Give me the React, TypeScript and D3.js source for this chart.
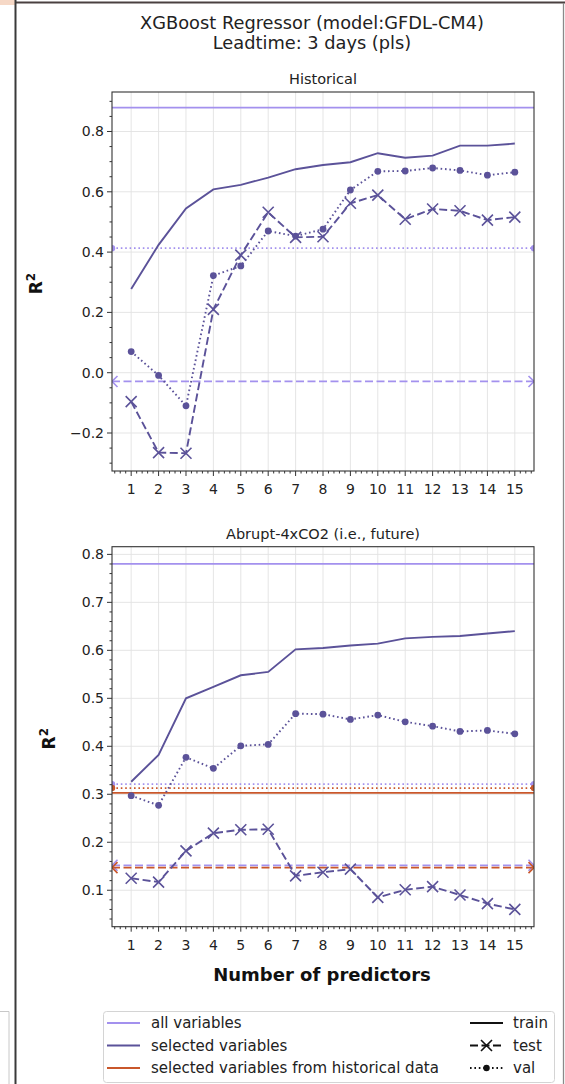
import * as d3 from 'd3';

// number of predictors on the x axis
const predictors = [1, 2, 3, 4, 5, 6, 7, 8, 9, 10, 11, 12, 13, 14, 15];

// Historical panel, selected variables
const histTrain = [0.278, 0.424, 0.545, 0.608, 0.623, 0.647, 0.675, 0.689, 0.698, 0.728, 0.713, 0.72, 0.753, 0.753, 0.76];
const histTest = [-0.096, -0.265, -0.267, 0.21, 0.39, 0.532, 0.449, 0.451, 0.562, 0.589, 0.509, 0.543, 0.537, 0.506, 0.516];
const histVal = [0.07, -0.009, -0.11, 0.322, 0.354, 0.47, 0.453, 0.476, 0.606, 0.668, 0.669, 0.679, 0.671, 0.655, 0.665];
// Historical panel, all variables (train, test, val)
const histAll = [0.879, -0.029, 0.413];

// Abrupt-4xCO2 panel, selected variables
const futTrain = [0.326, 0.382, 0.5, 0.524, 0.548, 0.555, 0.602, 0.605, 0.61, 0.614, 0.625, 0.628, 0.63, 0.635, 0.64];
const futTest = [0.125, 0.117, 0.182, 0.219, 0.226, 0.227, 0.13, 0.1375, 0.144, 0.085, 0.101, 0.1075, 0.09, 0.072, 0.06];
const futVal = [0.297, 0.277, 0.377, 0.354, 0.401, 0.404, 0.468, 0.467, 0.456, 0.465, 0.451, 0.442, 0.431, 0.433, 0.426];
// Abrupt-4xCO2 panel, all variables and variables picked on historical data (train, test, val)
const futAll = [0.78, 0.152, 0.321];
const futFromHist = [0.303, 0.147, 0.313];

const histYTicks = [-0.2, 0, 0.2, 0.4, 0.6, 0.8];
const futYTicks = [0.1, 0.2, 0.3, 0.4, 0.5, 0.6, 0.7, 0.8];

const legendLeft = ['all variables', 'selected variables', 'selected variables from historical data'];
const legendRight = ['train', 'test', 'val'];

const ALL = '#a391ee';
const SEL = '#5b5299';
const HIST = '#c9572b';
const FONT = 'DejaVu Sans, sans-serif';

const DASH = '8,3.5';
const DOT = '1.6,2.8';

const x = d3.scaleLinear([0.3, 15.7], [112, 534]);

function XMark({ cx, cy, color, s = 5.5 }) {
    return (
        <path
            d={`M${cx - s},${cy - s}L${cx + s},${cy + s}M${cx - s},${cy + s}L${cx + s},${cy - s}`}
            stroke={color}
            strokeWidth={1.6}
            fill="none"
        />
    );
}

function Panel({ id, title, top, bottom, yDomain, yTicks, minorStep, fmt, train, test, val, flat, labelX }) {
    const y = d3.scaleLinear(yDomain, [bottom, top]);
    const [x0, x1] = x.range();
    const line = d3.line((d, i) => x(predictors[i]), (d) => y(d));
    const xMinor = d3.range(0.4, 15.65, 0.2).filter((v) => Math.abs(v - Math.round(v)) > 0.01);
    const yMinor = d3
        .range(Math.ceil(yDomain[0] / minorStep) * minorStep, yDomain[1], minorStep)
        .filter((v) => !yTicks.some((t) => Math.abs(t - v) < 1e-6));

    return (
        <g>
            <defs>
                <clipPath id={id}>
                    <rect x={x0} y={top} width={x1 - x0} height={bottom - top} />
                </clipPath>
            </defs>
            <text x={(x0 + x1) / 2} y={top - 8} textAnchor="middle" fontSize={14.5} fontFamily={FONT} fill="#222">
                {title}
            </text>
            {/* grid */}
            <g stroke="#e2e2e2" strokeWidth={0.9}>
                {predictors.map((p) => (
                    <line key={p} x1={x(p)} x2={x(p)} y1={top} y2={bottom} />
                ))}
                {yTicks.map((t) => (
                    <line key={t} x1={x0} x2={x1} y1={y(t)} y2={y(t)} />
                ))}
            </g>
            <g clipPath={`url(#${id})`}>
                {flat.map((f, k) => (
                    <g key={k}>
                        <line x1={x0} x2={x1} y1={y(f.values[0])} y2={y(f.values[0])} stroke={f.color} strokeWidth={1.8} />
                        <line x1={x0} x2={x1} y1={y(f.values[1])} y2={y(f.values[1])} stroke={f.color} strokeWidth={1.8} strokeDasharray={DASH} />
                        <XMark cx={x0} cy={y(f.values[1])} color={f.color} />
                        <XMark cx={x1} cy={y(f.values[1])} color={f.color} />
                        <line x1={x0} x2={x1} y1={y(f.values[2])} y2={y(f.values[2])} stroke={f.color} strokeWidth={1.8} strokeDasharray={DOT} />
                        <circle cx={x0} cy={y(f.values[2])} r={3.2} fill={f.color} />
                        <circle cx={x1} cy={y(f.values[2])} r={3.2} fill={f.color} />
                    </g>
                ))}
                <path d={line(train)} fill="none" stroke={SEL} strokeWidth={1.9} />
                <path d={line(test)} fill="none" stroke={SEL} strokeWidth={1.9} strokeDasharray={DASH} />
                {test.map((v, i) => (
                    <XMark key={i} cx={x(predictors[i])} cy={y(v)} color={SEL} />
                ))}
                <path d={line(val)} fill="none" stroke={SEL} strokeWidth={1.9} strokeDasharray={DOT} />
                {val.map((v, i) => (
                    <circle key={i} cx={x(predictors[i])} cy={y(v)} r={3.4} fill={SEL} />
                ))}
            </g>
            {/* spines */}
            <rect x={x0} y={top} width={x1 - x0} height={bottom - top} fill="none" stroke="#333" strokeWidth={1.1} />
            {/* ticks */}
            <g stroke="#333" strokeWidth={1}>
                {predictors.map((p) => (
                    <line key={p} x1={x(p)} x2={x(p)} y1={bottom} y2={bottom + 5} />
                ))}
                {xMinor.map((v, i) => (
                    <line key={i} x1={x(v)} x2={x(v)} y1={bottom} y2={bottom + 2.5} />
                ))}
                {yTicks.map((t) => (
                    <line key={t} x1={x0} x2={x0 - 5} y1={y(t)} y2={y(t)} />
                ))}
                {yMinor.map((v, i) => (
                    <line key={i} x1={x0} x2={x0 - 2.5} y1={y(v)} y2={y(v)} />
                ))}
            </g>
            <g fontFamily={FONT} fontSize={14} fill="#222">
                {predictors.map((p) => (
                    <text key={p} x={x(p)} y={bottom + 23} textAnchor="middle">
                        {p}
                    </text>
                ))}
                {yTicks.map((t) => (
                    <text key={t} x={x0 - 8} y={y(t) + 5} textAnchor="end">
                        {fmt(t).replace('-', '\u2212')}
                    </text>
                ))}
            </g>
            <text
                transform={`translate(${labelX},${(top + bottom) / 2 + 2}) rotate(-90)`}
                textAnchor="middle"
                fontFamily={FONT}
                fontSize={17}
                fontWeight="bold"
                fill="#111"
            >
                R<tspan dy={-7} fontSize={12}>2</tspan>
            </text>
        </g>
    );
}

export default function App() {
    return (
        <svg width={565} height={1084} style={{ position: 'absolute', left: 0, top: 0, background: '#fff' }}>
            <rect x={0} y={0} width={15} height={5} fill="#f6d8c6" />
            <line x1={15} x2={565} y1={2.5} y2={2.5} stroke="#4a4040" strokeWidth={2} />
            <line x1={15.5} x2={15.5} y1={0} y2={1084} stroke="#3a3a3a" strokeWidth={2} />
            <line x1={563.5} x2={563.5} y1={3} y2={1084} stroke="#8a8a8a" strokeWidth={1.3} />
            <path d="M0,1011.5H9V1084" fill="none" stroke="#c8c8c8" strokeWidth={1} />

            <text x={312} y={29} textAnchor="middle" fontFamily={FONT} fontSize={17.8} fill="#222">
                XGBoost Regressor (model:GFDL-CM4)
            </text>
            <text x={312} y={49} textAnchor="middle" fontFamily={FONT} fontSize={17.8} fill="#222">
                Leadtime: 3 days (pls)
            </text>

            <Panel
                id="clip-hist"
                title="Historical"
                top={92}
                bottom={471}
                yDomain={[-0.326, 0.931]}
                yTicks={histYTicks}
                minorStep={0.05}
                fmt={d3.format('.1f')}
                train={histTrain}
                test={histTest}
                val={histVal}
                flat={[{ color: ALL, values: histAll }]}
                labelX={42}
            />
            <Panel
                id="clip-fut"
                title="Abrupt-4xCO2 (i.e., future)"
                top={546.7}
                bottom={926.7}
                yDomain={[0.024, 0.816]}
                yTicks={futYTicks}
                minorStep={0.02}
                fmt={d3.format('.1f')}
                train={futTrain}
                test={futTest}
                val={futVal}
                flat={[
                    { color: ALL, values: futAll },
                    { color: HIST, values: futFromHist },
                ]}
                labelX={55}
            />

            <text x={322} y={981} textAnchor="middle" fontFamily={FONT} fontSize={18} fontWeight="bold" fill="#111">
                Number of predictors
            </text>

            {/* legend */}
            <rect x={103.5} y={1011.5} width={451} height={71} rx={3} fill="#fff" stroke="#d4d4d4" strokeWidth={1} />
            <g fontFamily={FONT} fontSize={15} fill="#222">
                {legendLeft.map((t, i) => (
                    <g key={t} transform={`translate(0,${1023 + i * 22.5})`}>
                        <line x1={107} x2={140} y1={0} y2={0} stroke={[ALL, SEL, HIST][i]} strokeWidth={1.8} />
                        <text x={151} y={5}>
                            {t}
                        </text>
                    </g>
                ))}
                {legendRight.map((t, i) => (
                    <g key={t} transform={`translate(0,${1023 + i * 22.5})`}>
                        <line
                            x1={470}
                            x2={503}
                            y1={0}
                            y2={0}
                            stroke="#111"
                            strokeWidth={1.8}
                            strokeDasharray={i === 1 ? DASH : i === 2 ? DOT : undefined}
                        />
                        {i === 1 && <XMark cx={486.5} cy={0} color="#111" />}
                        {i === 2 && <circle cx={486.5} cy={0} r={3.2} fill="#111" />}
                        <text x={513} y={5}>
                            {t}
                        </text>
                    </g>
                ))}
            </g>
        </svg>
    );
}
